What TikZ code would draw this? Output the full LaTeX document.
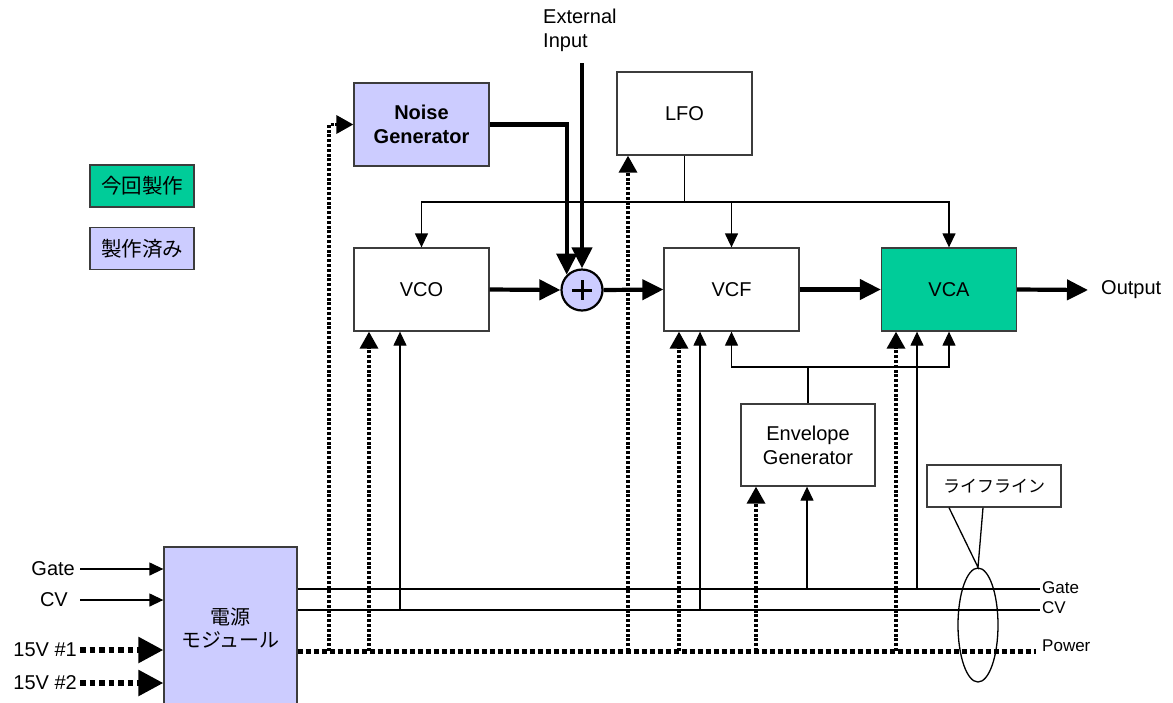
\documentclass[tikz,border=0pt]{standalone}
\usepackage{fontspec}
\setmainfont{Liberation Sans}
\newfontfamily\jp{Noto Sans CJK JP}
\usetikzlibrary{arrows.meta,calc,shapes.geometric}
\definecolor{lav}{RGB}{204,204,255}
\definecolor{grn}{RGB}{0,204,153}
\definecolor{edge}{RGB}{60,60,60}
\begin{document}
\begin{tikzpicture}[x=1pt,y=-1pt,
  font=\fontsize{20}{24}\selectfont,
  blk/.style={draw=edge, line width=1.3pt, minimum width=135pt, minimum height=83pt, inner sep=0pt, align=center, fill=white},
  leg/.style={draw=edge, line width=1.3pt, minimum width=104pt, minimum height=42pt, inner sep=0pt, font=\jp\fontsize{20.5}{22}\selectfont},
  sig/.style={line width=4.2pt, -{Triangle[length=21pt,width=20pt]}},
  ctl/.style={line width=1.3pt, -{Triangle[length=14pt,width=13pt]}},
  thinl/.style={line width=1.3pt},
  dotl/.style={line width=3.4pt, dash pattern=on 3pt off 1.8pt},
  dotarrow/.style={dotl, -{Triangle[length=17pt,width=18pt]}},
  busdot/.style={line width=5pt, dash pattern=on 5pt off 3pt},
  vin/.style={line width=5.5pt, dash pattern=on 5.5pt off 4pt, -{Triangle[length=25pt,width=25pt]}},
  lbl/.style={inner sep=0pt},
  small/.style={inner sep=0pt, font=\fontsize{17}{20}\selectfont},
]
\path[use as bounding box, clip] (0,0) rectangle (1173,702);
\fill[white] (0,0) rectangle (1173,702);

% blocks
\node[blk, fill=lav, font=\bfseries\fontsize{20}{24}\selectfont] (noise) at (421.5,124.5) {Noise\\Generator};
\node[blk] (lfo) at (684.5,113.5) {LFO};
\node[blk] (vco) at (421.5,289.5) {VCO};
\node[blk] (vcf) at (731.5,289.5) {VCF};
\node[blk, fill=grn] (vca) at (949,289.5) {VCA};
\node[blk, minimum width=134pt, minimum height=82pt] (env) at (808,445) {Envelope\\Generator};
\node[blk, fill=lav, minimum width=133pt, minimum height=163pt, font=\jp\fontsize{20}{23}\selectfont] (pwr) at (230.5,628.5) {電源\\モジュール};
\node[draw=black, fill=lav, line width=2.2pt, circle, minimum size=41pt, inner sep=0pt] (sum) at (582,290) {};
\draw[line width=3pt] ($(sum.center)+(-10,0)$) -- ($(sum.center)+(10,0)$)
  ($(sum.center)+(0,-10)$) -- ($(sum.center)+(0,10)$);

% legend
\node[leg, fill=grn] (legA) at (142,186) {今回製作};
\node[leg, fill=lav] (legB) at (142,248.5) {製作済み};

% external input
\node[lbl, align=left, anchor=north west] (ext) at (543,9) {External\\Input};
\coordinate (extS) at (582,63);
\coordinate (outE) at (1088,290);
\node[lbl, anchor=west] (out) at (1101,290) {Output};

% thick signal path
\draw[sig] (noise.east) -| (sum.north west);
\draw[sig] (extS) -- (sum.north);
\draw[sig] (vco.east) -- (sum.west);
\draw[sig] (sum.east) -- (vcf.west);
\draw[sig] (vcf.east) -- (vca.west);
\draw[sig] (vca.east) -- (outE);

% LFO bus
\coordinate (lfobus) at (684.5,202);
\draw[thinl] (lfo.south) -- (lfobus);
\draw[ctl] (lfobus) -| (vco.north);
\draw[ctl] (lfobus) -| (vca.north);
\draw[ctl] (vcf.north |- lfobus) -- (vcf.north);

% envelope bus
\coordinate (envbus) at (808,367);
\draw[thinl] (env.north) -- (envbus);
\draw[ctl] (envbus) -| (vcf.south);
\draw[ctl] (envbus) -| (vca.south);

% lifeline buses
\coordinate (gateE) at (1040,589);
\coordinate (cvE) at (1040,610);
\coordinate (powE) at (1036,651);
\draw[thinl] (pwr.east |- gateE) -- (gateE);
\draw[thinl] (pwr.east |- cvE) -- (cvE);
\node[small, anchor=west] (gateL) at (1042,588) {Gate};
\node[small, anchor=west] (cvL) at (1042,608) {CV};
\node[small, anchor=west] (powL) at (1042,646) {Power};

% CV / gate taps
\coordinate (cvVCO) at (400,610);
\coordinate (cvVCF) at (700,610);
\coordinate (gtENV) at (807,589);
\coordinate (gtVCA) at (917,589);
\draw[ctl] (cvVCO) -- (cvVCO |- vco.south);
\draw[ctl] (cvVCF) -- (cvVCF |- vcf.south);
\draw[ctl] (gtENV) -- (gtENV |- env.south);
\draw[ctl] (gtVCA) -- (gtVCA |- vca.south);

% power taps
\coordinate (pN) at (329,651);
\coordinate (pVCO) at (369,651);
\coordinate (pLFO) at (628,651);
\coordinate (pVCF) at (679,651);
\coordinate (pENV) at (756,651);
\coordinate (pVCA) at (896,651);
\draw[dotarrow] (pN) |- (noise.west);
\draw[dotarrow] (pVCO) -- (pVCO |- vco.south);
\draw[dotarrow] (pLFO) -- (pLFO |- lfo.south);
\draw[dotarrow] (pVCF) -- (pVCF |- vcf.south);
\draw[dotarrow] (pENV) -- (pENV |- env.south);
\draw[dotarrow] (pVCA) -- (pVCA |- vca.south);
\draw[busdot] (pwr.east |- powE) -- (powE);

% inputs to power module
\coordinate (inG) at (80,569);
\coordinate (inC) at (80,600);
\coordinate (in1) at (80,650);
\coordinate (in2) at (80,683);
\node[lbl, anchor=east] (gL) at (75,569) {Gate};
\node[lbl, anchor=east] (cL) at (68,600) {CV};
\node[lbl, anchor=east] (v1L) at (77,650) {15V \#1};
\node[lbl, anchor=east] (v2L) at (77,683) {15V \#2};
\draw[ctl] (inG) -- (inG -| pwr.west);
\draw[ctl] (inC) -- (inC -| pwr.west);
\draw[vin] (in1) -- (in1 -| pwr.west);
\draw[vin] (in2) -- (in2 -| pwr.west);

% lifeline callout
\node[draw=edge, line width=1.3pt, fill=white, minimum width=134pt, minimum height=42pt, inner sep=0pt, font=\jp\fontsize{17}{20}\selectfont] (life) at (994,486) {ライフライン};
\node[draw, line width=1.3pt, ellipse, minimum width=40pt, minimum height=114pt, inner sep=0pt] (ring) at (978,625) {};
\draw[thinl] ($(life.south)+(-45,0)$) -- (ring.north) -- ($(life.south)+(-11,0)$);
\end{tikzpicture}
\end{document}
